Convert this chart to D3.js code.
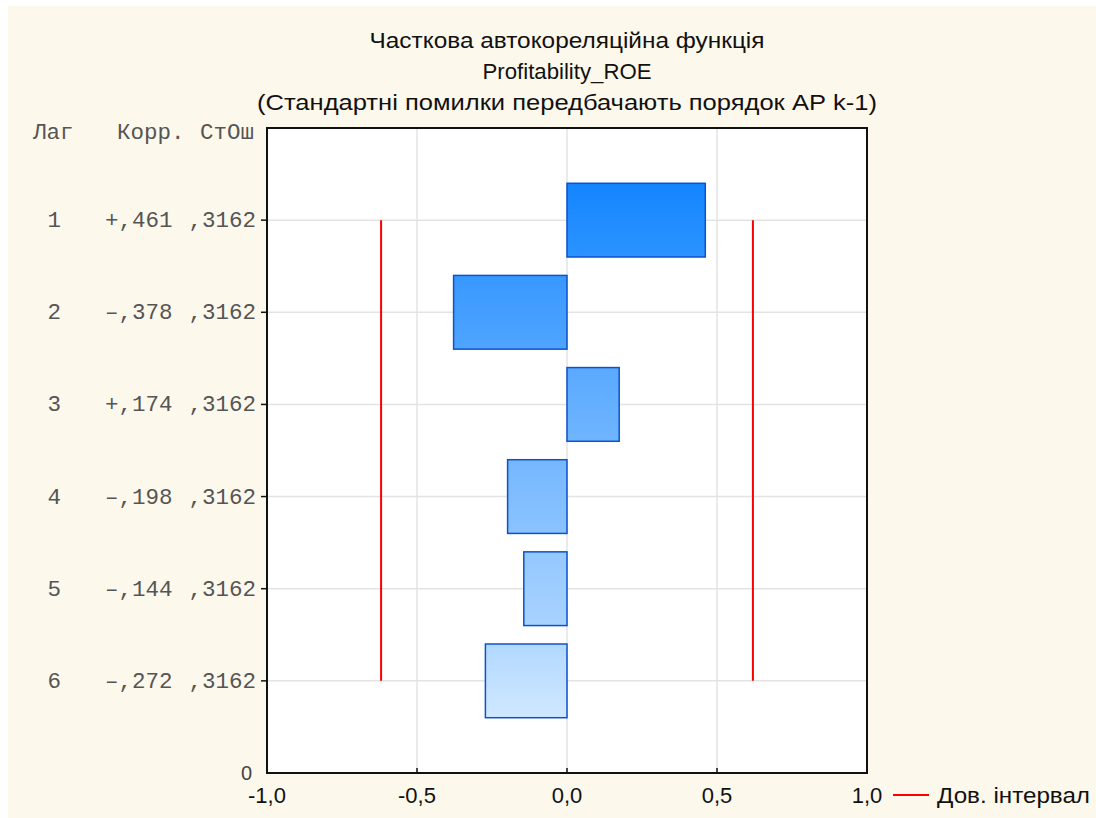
<!DOCTYPE html>
<html>
<head>
<meta charset="utf-8">
<script src="https://cdn.jsdelivr.net/npm/d3@7"></script>
<style>
  html, body { margin: 0; padding: 0; background: #fff; }
  svg { display: block; }
</style>
</head>
<body>
<div id="chart"></div>
<script>
// Partial autocorrelation data
const lags = [1, 2, 3, 4, 5, 6];
const pacf = [0.461, -0.378, 0.174, -0.198, -0.144, -0.272];
const stdErr = [0.3162, 0.3162, 0.3162, 0.3162, 0.3162, 0.3162];
const corrLabels = ["+,461", "–,378", "+,174", "–,198", "–,144", "–,272"];
const errLabels = [",3162", ",3162", ",3162", ",3162", ",3162", ",3162"];
const xTicks = [-1, -0.5, 0, 0.5, 1];
const titleLines = [
  "Часткова автокореляційна функція",
  "Profitability_ROE",
  "(Стандартні помилки передбачають порядок АР k-1)"
];
// widths the title lines take in the reference
const titleWidths = [395, 169, 620];
// bar fill per lag: [top, bottom] of gradient
const barColors = [
  ["#1485ff", "#2b93ff"],
  ["#3898ff", "#4fa4ff"],
  ["#5aa9ff", "#6fb5ff"],
  ["#75b7ff", "#8bc3ff"],
  ["#94c8ff", "#a8d2ff"],
  ["#b2d8ff", "#d0e8ff"]
];

const W = 1096, H = 818;
const plot = { left: 267, right: 867, top: 128, bottom: 773 };
const sans = "Liberation Sans, Arial, sans-serif";
const mono = "Liberation Mono, Courier New, monospace";

const svg = d3.select("#chart").append("svg")
  .attr("width", W).attr("height", H);

svg.append("rect").attr("x", 8).attr("y", 6)
  .attr("width", W - 8).attr("height", H - 6).attr("fill", "#fdf8ec");

const x = d3.scaleLinear().domain([-1, 1]).range([plot.left, plot.right]);
const y = d3.scaleLinear().domain([0, 7]).range([plot.top, plot.bottom]);

svg.append("rect")
  .attr("x", plot.left).attr("y", plot.top)
  .attr("width", plot.right - plot.left).attr("height", plot.bottom - plot.top)
  .attr("fill", "#fff");

// grid
svg.append("g").selectAll("line").data(xTicks.slice(1, -1)).join("line")
  .attr("x1", d => x(d)).attr("x2", d => x(d))
  .attr("y1", plot.top).attr("y2", plot.bottom)
  .attr("stroke", "#e3e3e3").attr("stroke-width", 1.5);
svg.append("g").selectAll("line").data(lags).join("line")
  .attr("x1", plot.left).attr("x2", plot.right)
  .attr("y1", d => y(d)).attr("y2", d => y(d))
  .attr("stroke", "#e3e3e3").attr("stroke-width", 1.5);

// gradients
const defs = svg.append("defs");
barColors.forEach((c, i) => {
  const g = defs.append("linearGradient").attr("id", "bar-grad-" + i)
    .attr("x1", 0).attr("y1", 0).attr("x2", 0).attr("y2", 1);
  g.append("stop").attr("offset", "0%").attr("stop-color", c[0]);
  g.append("stop").attr("offset", "100%").attr("stop-color", c[1]);
});

// bars
const halfH = 0.4;
svg.append("g").selectAll("rect").data(lags).join("rect")
  .attr("x", (d, i) => x(Math.min(0, pacf[i])))
  .attr("y", d => y(d - halfH))
  .attr("width", (d, i) => Math.abs(x(pacf[i]) - x(0)))
  .attr("height", d => y(d + halfH) - y(d - halfH))
  .attr("fill", (d, i) => `url(#bar-grad-${i})`)
  .attr("stroke", "#0c52cc").attr("stroke-width", 1.5);

// confidence limits
const ci = stdErr.map(s => 1.96 * s);
[-1, 1].forEach(sign => {
  svg.append("line")
    .attr("x1", x(sign * ci[0])).attr("x2", x(sign * ci[ci.length - 1]))
    .attr("y1", y(lags[0])).attr("y2", y(lags[lags.length - 1]))
    .attr("stroke", "#ff0000").attr("stroke-width", 2);
});

// frame
svg.append("rect")
  .attr("x", plot.left).attr("y", plot.top)
  .attr("width", plot.right - plot.left).attr("height", plot.bottom - plot.top)
  .attr("fill", "none").attr("stroke", "#111").attr("stroke-width", 2);

// ticks: left outside at lags, bottom inside at x ticks
svg.append("g").selectAll("line").data(lags).join("line")
  .attr("x1", plot.left - 6).attr("x2", plot.left)
  .attr("y1", d => y(d)).attr("y2", d => y(d))
  .attr("stroke", "#111").attr("stroke-width", 1.5);
svg.append("g").selectAll("line").data(xTicks.slice(1, -1)).join("line")
  .attr("x1", d => x(d)).attr("x2", d => x(d))
  .attr("y1", plot.bottom - 5).attr("y2", plot.bottom)
  .attr("stroke", "#111").attr("stroke-width", 1.5);

// x tick labels
const fmt = v => d3.format(".1f")(v).replace(".", ",").replace("−", "-");
svg.append("g").selectAll("text").data(xTicks).join("text")
  .attr("x", d => x(d)).attr("y", plot.bottom + 30)
  .attr("text-anchor", "middle")
  .attr("font-family", sans)
  .attr("font-size", 22).attr("fill", "#111")
  .text(fmt);

svg.append("text").attr("x", plot.left - 15).attr("y", plot.bottom + 7)
  .attr("text-anchor", "end")
  .attr("font-family", sans)
  .attr("font-size", 20).attr("fill", "#444").text("0");

// left table
const table = svg.append("g").attr("font-family", mono)
  .attr("font-size", 22.5).attr("fill", "#555");
table.append("text").attr("x", 33).attr("y", plot.top + 11).text("Лаг");
table.append("text").attr("x", 117).attr("y", plot.top + 11).text("Корр.");
table.append("text").attr("x", 200).attr("y", plot.top + 11).text("СтОш");
lags.forEach((l, i) => {
  const yy = y(l) + 7;
  table.append("text").attr("x", 61).attr("y", yy)
    .attr("text-anchor", "end").text(l);
  table.append("text").attr("x", 105).attr("y", yy).text(corrLabels[i]);
  table.append("text").attr("x", 256).attr("y", yy)
    .attr("text-anchor", "end").text(errLabels[i]);
});

// title
svg.append("g").selectAll("text").data(titleLines).join("text")
  .attr("x", 567).attr("y", (d, i) => 48 + i * 31)
  .attr("text-anchor", "middle")
  .attr("font-family", sans)
  .attr("font-size", 22).attr("fill", "#111")
  .attr("textLength", (d, i) => titleWidths[i])
  .attr("lengthAdjust", "spacingAndGlyphs")
  .text(d => d);

// legend
svg.append("line").attr("x1", 893).attr("x2", 929)
  .attr("y1", plot.bottom + 22).attr("y2", plot.bottom + 22)
  .attr("stroke", "#ff0000").attr("stroke-width", 2);
svg.append("text").attr("x", 937).attr("y", plot.bottom + 30)
  .attr("font-family", sans)
  .attr("font-size", 22).attr("fill", "#111")
  .attr("textLength", 153).attr("lengthAdjust", "spacingAndGlyphs")
  .text("Дов. інтервал");
</script>
</body>
</html>
